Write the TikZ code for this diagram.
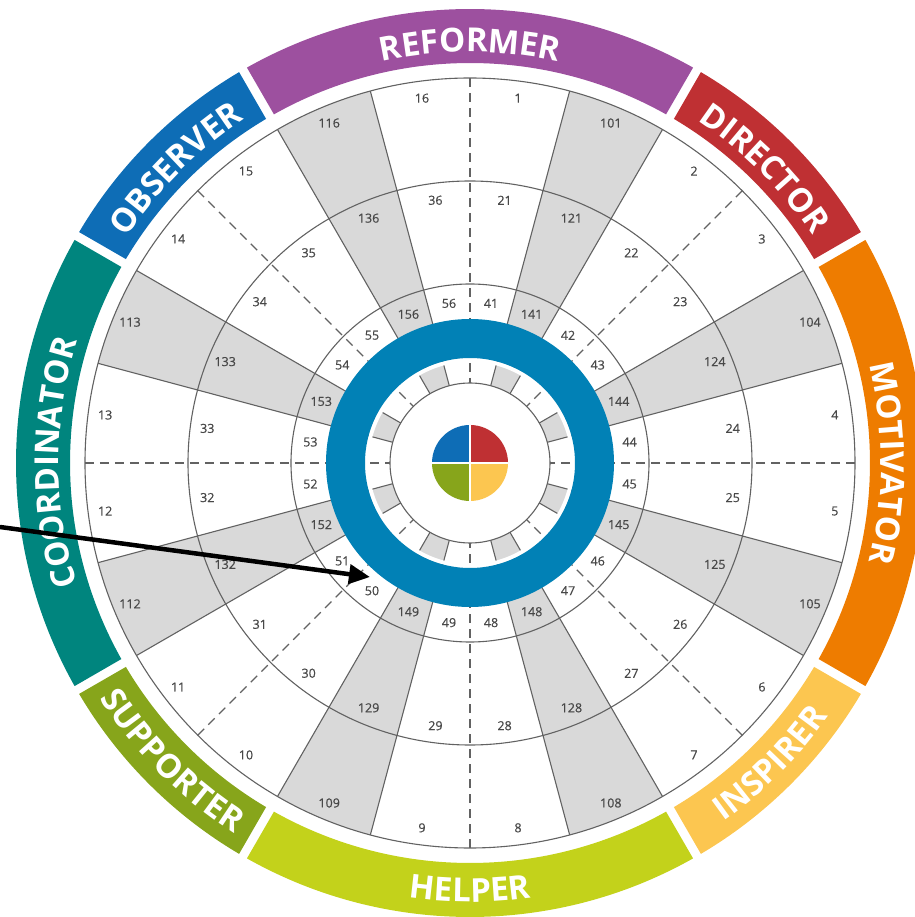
\documentclass[tikz,border=0pt]{standalone}
\usepackage{fontspec}
\setmainfont{Open Sans}
\newfontfamily\digitfont[FakeBold=0.5]{Open Sans}
\usetikzlibrary{arrows.meta,decorations.text}
\definecolor{reformer}{HTML}{9D509F}
\definecolor{director}{HTML}{BF3033}
\definecolor{motivator}{HTML}{EE7C00}
\definecolor{inspirer}{HTML}{FCC650}
\definecolor{helper}{HTML}{C3D21B}
\definecolor{supporter}{HTML}{87A51B}
\definecolor{coordinator}{HTML}{00857E}
\definecolor{observer}{HTML}{0E6DB6}
\definecolor{focus}{HTML}{0181B6}
\definecolor{rim}{HTML}{626262}
\definecolor{cellgrey}{HTML}{D9D9D9}
\definecolor{digits}{HTML}{484848}
\newcommand{\bandfont}{\fontsize{33}{33}\selectfont\bfseries}
\tikzset{
	ringline/.style={draw=rim,line width=1.1pt},
	split/.style={ringline,dash pattern=on 9pt off 6pt},
	num/.style={font=\digitfont\fontsize{12.5}{12.5}\selectfont,text=digits,inner sep=0pt},
	rolename/.style={decorate,decoration={text along path,text align=center,text color=white,text={|\bandfont|#1}}},
	pointer/.style={line width=4.5pt,-{Triangle[length=21pt,width=19pt]}}
}
\begin{document}
\begin{tikzpicture}[x=1pt,y=1pt]
	\useasboundingbox (-470,-454) rectangle (444,463);
	\foreach \a in {15,60,...,330}
		\fill[cellgrey] (\a:80) arc[start angle=\a,end angle=\a+15,radius=80pt] -- ({\a+15}:385) arc[start angle=\a+15,end angle=\a,radius=385pt] -- cycle;
	\foreach \r in {80pt,179pt,282pt,385pt}
		\draw[ringline] (0,0) circle[radius=\r];
	\foreach \a in {0,45,...,315} {
		\draw[ringline] ({\a+15}:80) -- ({\a+15}:385);
		\draw[ringline] ({\a+30}:80) -- ({\a+30}:385);
		\draw[split] (\a:385) -- (\a:80);
	}
	\foreach \n [count=\k from 0] in {1,101,2,3,104,4,5,105,6,7,108,8,9,109,10,11,112,12,13,113,14,15,116,16}
		\foreach \off/\r in {0/368,20/265,40/161} {
			\pgfmathtruncatemacro{\lab}{\n+\off}
			\node[num] (n\lab) at ({82.5-15*\k}:\r) {\lab};
		}
	\draw[white,line width=4pt] (0,0) circle[radius=103pt];
	\draw[focus,line width=39pt] (0,0) circle[radius=124.5pt];
	\fill[observer] (0,0) -- (90:38) arc[start angle=90,end angle=180,radius=38pt] -- cycle;
	\fill[director] (0,0) -- (0:38) arc[start angle=0,end angle=90,radius=38pt] -- cycle;
	\fill[supporter] (0,0) -- (180:38) arc[start angle=180,end angle=270,radius=38pt] -- cycle;
	\fill[inspirer] (0,0) -- (270:38) arc[start angle=270,end angle=360,radius=38pt] -- cycle;
	\draw[white,line width=1.2pt] (-38,0) -- (38,0) (0,-38) -- (0,38);
	\foreach \a/\b/\c in {60/120/reformer,30/60/director,-30/30/motivator,-60/-30/inspirer,-120/-60/helper,-150/-120/supporter,150/210/coordinator,120/150/observer}
		\fill[\c] ({\a+0.65}:400) arc[start angle=\a+0.65,end angle=\b-0.65,radius=400pt] -- ({\b-0.57}:454) arc[start angle=\b-0.57,end angle=\a+0.57,radius=454pt] -- cycle;
	\path[rolename=REFORMER] (120:411) arc[start angle=120,end angle=60,radius=411pt];
	\path[rolename=DIRECTOR] (60:411) arc[start angle=60,end angle=30,radius=411pt];
	\path[rolename=MOTIVATOR] (30:411) arc[start angle=30,end angle=-30,radius=411pt];
	\path[rolename=COORDINATOR] (210:411) arc[start angle=210,end angle=150,radius=411pt];
	\path[rolename=OBSERVER] (150:411) arc[start angle=150,end angle=120,radius=411pt];
	\path[rolename=INSPIRER] (-60:439) arc[start angle=-60,end angle=-30,radius=439pt];
	\path[rolename=HELPER] (-120:439) arc[start angle=-120,end angle=-60,radius=439pt];
	\path[rolename=SUPPORTER] (-150:439) arc[start angle=-150,end angle=-120,radius=439pt];
	\coordinate (src) at (-470,-64);
	\coordinate (tip) at (-100,-114);
	\draw[pointer] (src) -- (tip);
\end{tikzpicture}
\end{document}
